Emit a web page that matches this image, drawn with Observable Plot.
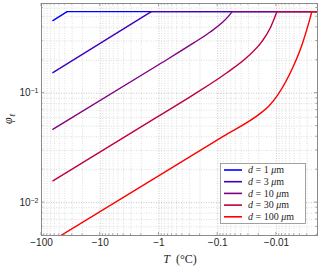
<!DOCTYPE html>
<html><head><meta charset="utf-8">
<script src="https://cdn.jsdelivr.net/npm/d3@7"></script>
<script src="https://cdn.jsdelivr.net/npm/@observablehq/plot@0.6"></script>
<style>body{margin:0;background:#fff;overflow:hidden}</style>
</head><body><div id="chart"></div>
<script>
// ---- data ----
const diameters = [1, 3, 10, 30, 100];
const colors = ["#0000ff", "#4000bf", "#800080", "#bf0040", "#ff0000"];
const T_d1 = [-64, -36.6, -0.002];
const phi_d1 = [0.461, 0.556, 0.556];
const T_d3 = [-64, -1.35, -0.002];
const phi_d3 = [0.154, 0.556, 0.556];
const T_d10 = [-64, -1, -0.257, -0.134, -0.0839, -0.0664, -0.0568, -0.002];
const phi_d10 = [0.0467, 0.1828, 0.2877, 0.362, 0.4418, 0.501, 0.556, 0.556];
const T_d30 = [-64, -1, -0.257, -0.0698, -0.0304, -0.01762, -0.01289, -0.00982, -0.002];
const phi_d30 = [0.0158, 0.0619, 0.0969, 0.1536, 0.217, 0.297, 0.390, 0.556, 0.556];
const T_d100 = [-64, -1, -0.0807, -0.01905, -0.0134, -0.00943, -0.00525, -0.00356, -0.00281, -0.0025, -0.002];
const phi_d100 = [0.00451, 0.0176, 0.0403, 0.0650, 0.0762, 0.0969, 0.1723, 0.2908, 0.4418, 0.556, 0.556];
const xTicks = [-100, -10, -1, -0.1, -0.01];
const xTickLabels = ["\u2212100", "\u221210", "\u22121", "\u22120.1", "\u22120.01"];
const yTicks = [0.01, 0.1];
const yTickLabels = [["10", "\u22122"], ["10", "\u22121"]];
const xDomain = [-100, -0.002];
const yDomain = [0.005, 0.66];

// ---- layout ----
const W = 320, H = 269, mL = 41, mR = 3, mT = 3, mB = 34;
const series = [[T_d1, phi_d1], [T_d3, phi_d3], [T_d10, phi_d10], [T_d30, phi_d30], [T_d100, phi_d100]];
const rise = [], flat = [];
series.forEach(([T, P], i) => {
  const pmax = Math.max(...P);
  const k = P.indexOf(pmax);
  T.forEach((t, j) => {
    const r = {s: i, T: t, phi: P[j]};
    if (j <= k) rise.push(r);
    if (j >= k) flat.push(r);
  });
});

// minor grid positions
const xMinor = [], yMinor = [];
for (let e = -3; e <= 1; e++) for (let m = 2; m <= 9; m++) {
  const v = +(m * Math.pow(10, e)).toPrecision(6);
  if (v >= 0.002 && v <= 100) xMinor.push(-v);
}
for (let e = -3; e <= -1; e++) for (let m = 2; m <= 9; m++) {
  const v = +(m * Math.pow(10, e)).toPrecision(6);
  if (v >= yDomain[0] && v <= yDomain[1]) yMinor.push(v);
}

const gridMinor = {stroke: "#c8c8c8", strokeDasharray: "1,1.5", strokeWidth: 0.6};
const gridMajor = {stroke: "#b0b0b0", strokeDasharray: "1,1.5", strokeWidth: 0.7};

const marks = [
  Plot.ruleX(xMinor, gridMinor),
  Plot.ruleY(yMinor, gridMinor),
  Plot.ruleX(xTicks, gridMajor),
  Plot.ruleY(yTicks, gridMajor)
];
diameters.forEach((d, i) => {
  marks.push(Plot.line(rise.filter(r => r.s === i), {x: "T", y: "phi", stroke: colors[i], strokeWidth: 1.4, curve: "monotone-x", clip: true}));
  marks.push(Plot.line(flat.filter(r => r.s === i), {x: "T", y: "phi", stroke: colors[i], strokeWidth: 1.4, clip: true}));
});
marks.push(Plot.frame({stroke: "#8a8a8a", strokeWidth: 1}));
marks.push(Plot.axisX(xTicks, {tickSize: 0, tickPadding: 3, tickFormat: v => xTickLabels[xTicks.indexOf(v)], fill: "#262626"}));
marks.push(Plot.axisY(yTicks, {tickSize: 0, tickPadding: 3, tickFormat: v => yTickLabels[yTicks.indexOf(v)][0], fill: "#262626"}));

const plot = Plot.plot({
  width: W, height: H,
  marginLeft: mL, marginRight: mR, marginTop: mT, marginBottom: mB,
  style: {fontFamily: "'Liberation Sans', Arial, sans-serif", fontSize: "10px", background: "white", color: "#262626"},
  x: {type: "log", domain: xDomain, label: null},
  y: {type: "log", domain: yDomain, label: null},
  marks
});
document.getElementById("chart").appendChild(plot);

const svg = d3.select(plot);
const sx = plot.scale("x"), sy = plot.scale("y");
const pLeft = mL, pRight = W - mR, pTop = mT, pBottom = H - mB;

// superscripts on y tick labels
svg.selectAll('g[aria-label="y-axis tick label"] text').each(function (_, i) {
  const t = d3.select(this);
  const lab = yTickLabels[i];
  t.text(null);
  t.append("tspan").text(lab[0]);
  t.append("tspan").attr("dy", "-0.45em").attr("font-size", "7px").text(lab[1]);
});

// inward ticks on all four sides
const tg = svg.append("g").attr("stroke", "#8a8a8a").attr("stroke-width", 0.8);
function vt(x, len) {
  tg.append("line").attr("x1", x).attr("x2", x).attr("y1", pBottom).attr("y2", pBottom - len);
  tg.append("line").attr("x1", x).attr("x2", x).attr("y1", pTop).attr("y2", pTop + len);
}
function ht(y, len) {
  tg.append("line").attr("y1", y).attr("y2", y).attr("x1", pLeft).attr("x2", pLeft + len);
  tg.append("line").attr("y1", y).attr("y2", y).attr("x1", pRight).attr("x2", pRight - len);
}
xTicks.forEach(v => vt(sx.apply(v), 3));
xMinor.forEach(v => vt(sx.apply(v), 1.6));
yTicks.forEach(v => ht(sy.apply(v), 3));
yMinor.forEach(v => ht(sy.apply(v), 1.6));

// axis labels
const serif = "'Liberation Serif', 'DejaVu Serif', serif";
const xl = svg.append("text").attr("x", 180).attr("y", 263).attr("text-anchor", "middle")
  .attr("font-family", serif).attr("font-size", "12px").attr("fill", "#262626").style("white-space", "pre");
xl.append("tspan").attr("font-style", "italic").text("T");
xl.append("tspan").text("  (\u00B0C)");

const yl = svg.append("text").attr("transform", `translate(12,${(pTop + pBottom) / 2}) rotate(-90)`)
  .attr("text-anchor", "middle").attr("font-family", serif).attr("font-size", "12px").attr("fill", "#262626");
yl.append("tspan").attr("font-style", "italic").text("\u03C6");
yl.append("tspan").attr("font-size", "8px").attr("dy", "3").attr("font-style", "italic").text("\u2113");

// legend
const lg = svg.append("g");
lg.append("rect").attr("x", 220.5).attr("y", 163.5).attr("width", 85).attr("height", 60)
  .attr("fill", "white").attr("stroke", "#8a8a8a").attr("stroke-width", 0.8);
diameters.forEach((d, i) => {
  const y = 170 + i * 11.7;
  lg.append("line").attr("x1", 224).attr("x2", 242).attr("y1", y).attr("y2", y)
    .attr("stroke", colors[i]).attr("stroke-width", 1.6);
  const t = lg.append("text").attr("x", 248).attr("y", y + 3.3).attr("font-family", serif)
    .attr("text-anchor", "start")
    .attr("font-size", "10px").attr("fill", "#262626").style("white-space", "pre");
  t.append("tspan").attr("font-style", "italic").text("d");
  t.append("tspan").text(" = " + d + " ");
  t.append("tspan").attr("font-style", "italic").text("\u03BC");
  t.append("tspan").text("m");
});
</script>
</body></html>
